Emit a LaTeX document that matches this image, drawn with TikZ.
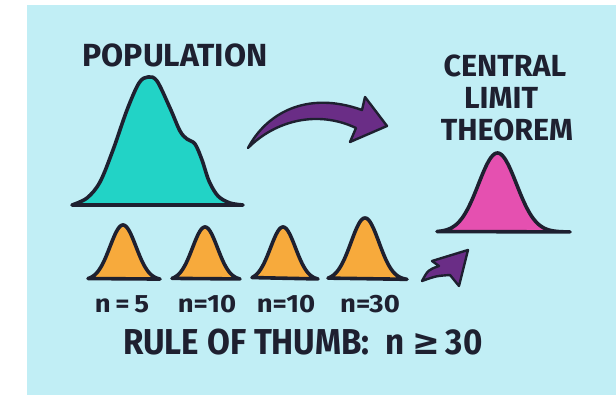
\documentclass[tikz,border=0pt]{standalone}
\usepackage{fontspec}
\setmainfont{Fira Sans}
\newfontfamily\symfont{DejaVu Sans}
\definecolor{bgc}{RGB}{193,238,245}
\definecolor{ink}{RGB}{30,32,48}
\definecolor{tealc}{RGB}{34,211,198}
\definecolor{pinkc}{RGB}{229,80,176}
\definecolor{orangec}{RGB}{247,170,60}
\definecolor{purplec}{RGB}{106,45,134}
\newcommand\mybell[7]{% color, xl, xr, xp, yb, h, s
  \filldraw[curve, fill=#1] plot[domain=#2:#3, samples=80] (\x,{#5-#6*exp(-((\x-#4)^2)/(2*#7*#7))}) -- cycle;}
\newcommand\widen[1]{\scalebox{1.1}[1]{#1}}
\tikzset{
  curve/.style={draw=ink, line width=3.6pt, line join=round, line cap=round},
  arrowshape/.style={draw=ink, fill=purplec, line width=2.4pt, line join=round},
  lbl/.style={text=ink, font=\bfseries, inner sep=0pt, anchor=base},
  nlbl/.style={lbl, font=\bfseries\fontsize{25}{25}\selectfont},
}
\begin{document}
\begin{tikzpicture}[x=1pt,y=-1pt]
\useasboundingbox (0,0) rectangle (616,395);
\fill[bgc] (27,5) rectangle (616,395);

% population curve
\filldraw[curve, fill=tealc] plot[smooth, tension=0.55] coordinates {
 (72,205) (87,198) (100,182) (113,150) (127,110) (139,83) (148,77) (157,81)
 (170,108) (180,131) (187,139) (195,144) (202,160) (209,181) (218,196) (230,203) (243,205)} -- cycle;

% CLT curve
\mybell{pinkc}{437}{570}{497.5}{232}{79}{19}

% sample curves
\mybell{orangec}{88}{160}{123}{280}{55}{13}
\mybell{orangec}{172}{240}{205}{280}{53}{12.5}
\mybell{orangec}{252}{318}{283}{280}{53}{12.5}
\mybell{orangec}{328}{407}{365}{280}{62}{14}

% big arrow
\coordinate (bt) at (248,148);
\filldraw[arrowshape] (bt) .. controls (266,114) and (306,90) .. (362,110)
  -- (365,97) -- (387,126) -- (350,142) -- (356,128)
  .. controls (318,110) and (276,120) .. (bt) -- cycle;

% small arrow
\coordinate (st) at (422,281);
\filldraw[arrowshape] (st) .. controls (428,270) .. (439,266)
  -- (432,261) -- (468,250) -- (459,286) -- (450,275)
  .. controls (436,276) .. (st) -- cycle;

% texts
\node[lbl, font=\bfseries\fontsize{32}{32}\selectfont] (pop) at (175,67) {POPULATION};
\node[lbl, font=\bfseries\fontsize{30.5}{32}\selectfont] (clt1) at (505,77) {CENTRAL};
\node[lbl, font=\bfseries\fontsize{30.5}{32}\selectfont] (clt2) at (501,109) {LIMIT};
\node[lbl, font=\bfseries\fontsize{30.5}{32}\selectfont] (clt3) at (507,141) {THEOREM};
\node[nlbl] (n1) at (122,313) {\widen{n\,=\,5}};
\node[nlbl] (n2) at (207,313) {\widen{n=10}};
\node[nlbl] (n3) at (286,313) {\widen{n=10}};
\node[nlbl] (n4) at (370,313) {\widen{n=30}};
\node[lbl, font=\bfseries\fontsize{36}{36}\selectfont, anchor=base west] (rule) at (123,355) {\scalebox{0.92}[1]{RULE OF THUMB:\ \ n {\symfont ≥}\,30}};
\end{tikzpicture}
\end{document}
